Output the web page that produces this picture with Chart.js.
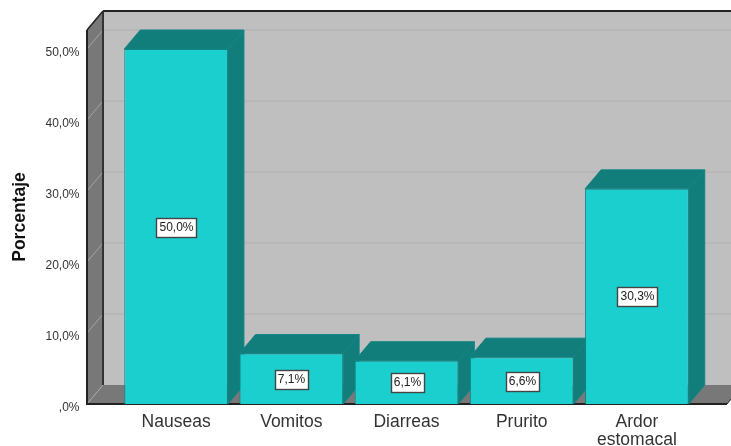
<!DOCTYPE html>
<html>
<head>
<meta charset="utf-8">
<style>html,body{margin:0;padding:0;background:#fff}canvas{display:block}</style>
<script src="https://cdn.jsdelivr.net/npm/chart.js@4"></script>
</head>
<body>
<canvas id="c" width="731" height="446"></canvas>
<script>
const categories = ['Nauseas', 'Vomitos', 'Diarreas', 'Prurito', ['Ardor', 'estomacal']];
const percentages = [50.0, 7.1, 6.1, 6.6, 30.3];
const valueLabels = ['50,0%', '7,1%', '6,1%', '6,6%', '30,3%'];
const yTicks = [0, 10, 20, 30, 40, 50];
const yTickLabels = [',0%', '10,0%', '20,0%', '30,0%', '40,0%', '50,0%'];
const yAxisTitle = 'Porcentaje';

const DX = 16, DY = -19;
const FRONT = '#1BCFCF', SHADE = '#117E7C', EDGE = '#128584';
const WALL = '#BFBFBF', SIDE = '#787878', INK = '#222222';
const FONT = '"Liberation Sans", Arial, sans-serif';

function poly(ctx, pts, fill, stroke, lw) {
  ctx.beginPath();
  pts.forEach((p, i) => i ? ctx.lineTo(p[0], p[1]) : ctx.moveTo(p[0], p[1]));
  ctx.closePath();
  if (fill) { ctx.fillStyle = fill; ctx.fill(); }
  if (stroke) { ctx.strokeStyle = stroke; ctx.lineWidth = lw || 1; ctx.stroke(); }
}
function line(ctx, x1, y1, x2, y2, color, lw) {
  ctx.beginPath(); ctx.moveTo(x1, y1); ctx.lineTo(x2, y2);
  ctx.strokeStyle = color; ctx.lineWidth = lw; ctx.stroke();
}

const frame3d = {
  id: 'frame3d',
  beforeDatasetsDraw(chart) {
    const { ctx, scales: { y } } = chart;
    const base = y.getPixelForValue(0);
    const left = 87, right = 727, wallTop = 11;
    ctx.save();
    ctx.fillStyle = WALL;
    ctx.fillRect(left + DX, wallTop, chart.width - left - DX, base + DY - wallTop);
    poly(ctx, [[left, base], [left, wallTop - DY], [left + DX, wallTop], [left + DX, base + DY]], SIDE);
    poly(ctx, [[left, base], [left + DX, base + DY], [right + DX, base + DY], [right, base]], SIDE);
    yTicks.forEach(v => {
      if (v === 0) return;
      const py = y.getPixelForValue(v);
      line(ctx, left, py, left + DX, py + DY, '#A4A4A4', 1);
      line(ctx, left + DX, py + DY, chart.width, py + DY, '#B5B5B5', 1.5);
    });
    line(ctx, left, base, left + DX, base + DY, '#A4A4A4', 1);
    line(ctx, left + DX, wallTop, chart.width, wallTop, INK, 2);
    line(ctx, left + DX, wallTop, left + DX, base + DY, '#333333', 2);
    line(ctx, left, wallTop - DY, left + DX, wallTop, INK, 1.5);
    line(ctx, left, wallTop - DY, left, base + 1, INK, 2);
    line(ctx, left, base, right, base, INK, 2);
    line(ctx, right, base, right + DX, base + DY, INK, 1);
    chart.getDatasetMeta(0).data.forEach(bar => {
      const l = bar.x - bar.width / 2, r = bar.x + bar.width / 2, t = bar.y, b = bar.base;
      poly(ctx, [[l, t], [l + DX, t + DY], [r + DX, t + DY], [r, t]], SHADE, EDGE, 1);
      poly(ctx, [[r, t], [r + DX, t + DY], [r + DX, b + DY], [r, b]], SHADE, EDGE, 1);
    });
    ctx.restore();
  },
  afterDatasetsDraw(chart) {
    const { ctx } = chart;
    ctx.save();
    ctx.font = '12px ' + FONT;
    ctx.textAlign = 'center';
    ctx.textBaseline = 'middle';
    chart.getDatasetMeta(0).data.forEach((bar, i) => {
      const cy = Math.round((bar.y + bar.base) / 2);
      const cx = Math.round(bar.x);
      const w = Math.round(ctx.measureText(valueLabels[i]).width) + 6, h = 19;
      const bx = Math.round(cx - w / 2), by = Math.round(cy - h / 2);
      ctx.fillStyle = '#fff';
      ctx.fillRect(bx, by, w, h);
      ctx.strokeStyle = '#444';
      ctx.lineWidth = 1.4;
      ctx.strokeRect(bx + .5, by + .5, w, h);
      ctx.fillStyle = '#222';
      ctx.fillText(valueLabels[i], cx + .5, cy + 1);
    });
    ctx.translate(20, 217);
    ctx.rotate(-Math.PI / 2);
    ctx.font = 'bold 17.5px ' + FONT;
    ctx.fillStyle = '#111';
    ctx.fillText(yAxisTitle, 0, 0);
    ctx.restore();
  }
};

new Chart(document.getElementById('c'), {
  type: 'bar',
  data: {
    labels: categories,
    datasets: [{
      data: percentages,
      backgroundColor: FRONT,
      borderColor: EDGE,
      borderWidth: 1,
      categoryPercentage: 0.9,
      barPercentage: 1
    }]
  },
  options: {
    responsive: false,
    animation: false,
    layout: { padding: { top: 49, right: 36.5, left: 0, bottom: 0 } },
    plugins: { legend: { display: false }, tooltip: { enabled: false } },
    scales: {
      x: {
        offset: true,
        clip: false,
        grid: { display: false, drawTicks: false },
        border: { display: false },
        afterFit(s) { s.height = 42; },
        ticks: {
          maxRotation: 0, minRotation: 0, autoSkip: false, padding: 9,
          color: '#333', font: { family: FONT, size: 17.5, lineHeight: 1.03 }
        }
      },
      y: {
        min: 0, max: 50,
        afterFit(s) { s.width = 118.5; s.paddingTop = 0; s.paddingBottom = 0; },
        grid: { display: false, drawTicks: false },
        border: { display: false },
        afterBuildTicks(s) { s.ticks = yTicks.map(v => ({ value: v })); },
        ticks: {
          padding: 39, labelOffset: 4, color: '#333',
          font: { family: FONT, size: 12 },
          callback: (v) => yTickLabels[yTicks.indexOf(v)]
        }
      }
    }
  },
  plugins: [frame3d]
});
</script>
</body>
</html>
